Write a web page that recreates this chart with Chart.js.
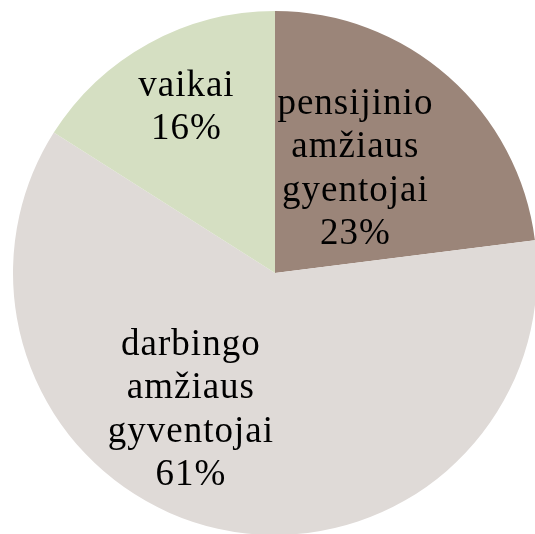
<!DOCTYPE html>
<html>
<head>
<meta charset="utf-8">
<script src="https://cdn.jsdelivr.net/npm/chart.js@4/dist/chart.umd.min.js"></script>
<style>
html,body{margin:0;padding:0;background:#fff;overflow:hidden;width:535px;height:534px;}
#wrap{position:absolute;left:0;top:0;width:540px;height:540px;}
</style>
</head>
<body>
<div id="wrap"><canvas id="c"></canvas></div>
<script>
// Data
const categories = ["pensijinio amžiaus gyentojai", "darbingo amžiaus gyventojai", "vaikai"];
const labelLines = [["pensijinio", "amžiaus", "gyentojai"], ["darbingo", "amžiaus", "gyventojai"], ["vaikai"]];
const values = [23, 61, 16];
const percentLabels = ["23%", "61%", "16%"];

// Styles
const colors = ["#9b8579", "#dfdad7", "#d5dfc2"];
const labelOffsets = [[0.305, -0.405], [-0.323, 0.515], [-0.34, -0.64]]; // fractions of radius

const labelPlugin = {
  id: 'pieLabels',
  afterDatasetsDraw(chart) {
    const ctx = chart.ctx;
    const meta = chart.getDatasetMeta(0);
    ctx.save();
    ctx.font = '37px "Liberation Serif", serif';
    if ('letterSpacing' in ctx) ctx.letterSpacing = '1px';
    ctx.fillStyle = '#000';
    ctx.textAlign = 'center';
    ctx.textBaseline = 'alphabetic';
    const lh = 43.5;
    meta.data.forEach((arc, i) => {
      const cx = arc.x, cy = arc.y, r = arc.outerRadius;
      const lines = labelLines[i].concat([percentLabels[i]]);
      const bx = cx + labelOffsets[i][0] * r;
      const by = cy + labelOffsets[i][1] * r;
      const n = lines.length;
      lines.forEach((t, k) => {
        const baseline = by + (k - (n - 1) / 2) * lh + 12;
        ctx.fillText(t, bx + 0.5, baseline);
      });
    });
    ctx.restore();
  }
};

new Chart(document.getElementById('c'), {
  type: 'pie',
  data: {
    labels: categories,
    datasets: [{
      data: values,
      backgroundColor: colors,
      borderWidth: 0
    }]
  },
  options: {
    responsive: true,
    maintainAspectRatio: false,
    animation: false,
    layout: { padding: { left: 13, right: 3, top: 11, bottom: 5 } },
    plugins: {
      legend: { display: false },
      tooltip: { enabled: false }
    }
  },
  plugins: [labelPlugin]
});
</script>
</body>
</html>
